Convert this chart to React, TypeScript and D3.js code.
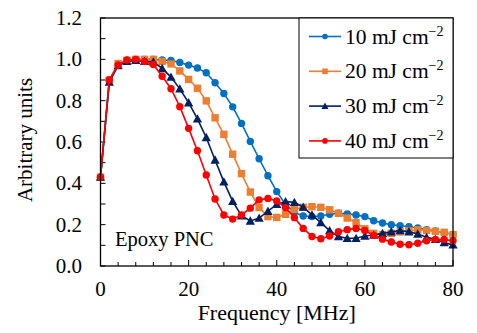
import React from 'react'
import * as d3 from 'd3'

const freqs = d3.range(0, 81, 2)

const fluences = ['10', '20', '30', '40']
const colors = ['#0070C0', '#ED7D31', '#002060', '#FF0000']
const markers = ['circle', 'square', 'triangle', 'circle']

const s10 = [0.43, 0.9, 0.975, 0.995, 1.0, 1.0, 1.0, 0.997, 0.995, 0.985, 0.972, 0.958, 0.935, 0.887, 0.835, 0.77, 0.69, 0.603, 0.519, 0.437, 0.36, 0.298, 0.26, 0.242, 0.239, 0.242, 0.25, 0.255, 0.252, 0.247, 0.239, 0.219, 0.208, 0.2, 0.195, 0.19, 0.184, 0.176, 0.169, 0.161, 0.152]
const s20 = [0.43, 0.9, 0.98, 0.995, 1.0, 1.0, 1.0, 0.99, 0.978, 0.944, 0.903, 0.86, 0.799, 0.717, 0.637, 0.541, 0.447, 0.358, 0.283, 0.239, 0.235, 0.25, 0.274, 0.284, 0.287, 0.284, 0.272, 0.255, 0.232, 0.21, 0.18, 0.158, 0.152, 0.158, 0.165, 0.17, 0.175, 0.172, 0.168, 0.163, 0.152]
const s30 = [0.43, 0.89, 0.97, 0.99, 0.995, 0.99, 0.988, 0.956, 0.914, 0.857, 0.79, 0.712, 0.622, 0.513, 0.407, 0.313, 0.243, 0.218, 0.232, 0.265, 0.298, 0.312, 0.308, 0.285, 0.247, 0.21, 0.171, 0.142, 0.134, 0.134, 0.145, 0.15, 0.158, 0.166, 0.171, 0.166, 0.155, 0.139, 0.129, 0.113, 0.102]
const s40 = [0.43, 0.9, 0.972, 0.997, 1.0, 0.99, 0.975, 0.918, 0.858, 0.771, 0.666, 0.558, 0.44, 0.324, 0.247, 0.227, 0.247, 0.28, 0.32, 0.327, 0.315, 0.282, 0.234, 0.182, 0.143, 0.132, 0.145, 0.166, 0.176, 0.182, 0.172, 0.148, 0.13, 0.116, 0.105, 0.103, 0.11, 0.122, 0.129, 0.128, 0.122]
const series = [s10, s20, s30, s40]

const xTicks = [0, 20, 40, 60, 80]
const yTicks = [0, 0.2, 0.4, 0.6, 0.8, 1.0, 1.2]

const W = 477
const H = 333
const left = 100.5
const right = 453
const top = 18
const bottom = 266
const font = '"Liberation Serif", "Times New Roman", serif'

function Marker({ type, x, y, size, color }) {
  if (type === 'square') {
    return <rect x={x - size} y={y - size} width={size * 2} height={size * 2} fill={color} />
  }
  if (type === 'triangle') {
    const s = size * 1.25
    return <path d={`M${x},${y - s}L${x + s},${y + s * 0.8}L${x - s},${y + s * 0.8}Z`} fill={color} />
  }
  return <circle cx={x} cy={y} r={size} fill={color} />
}

export default function App() {
  const x = d3.scaleLinear().domain([0, 80]).range([left, right])
  const y = d3.scaleLinear().domain([0, 1.2]).range([bottom, top])
  const line = d3.line<number>().x((_, i) => x(freqs[i])).y(d => y(d))

  const minorX = d3.range(0, 81, 4)
  const minorY = d3.range(0, 1.21, 0.1)

  return (
    <svg width={W} height={H} style={{ position: 'absolute', left: 0, top: 0, background: '#fff' }} fontFamily={font}>
      <rect x={0} y={0} width={W} height={H} fill="#fff" />
      {/* ticks */}
      {minorX.map(t => (
        <line key={'xt' + t} x1={x(t)} x2={x(t)} y1={bottom} y2={bottom - (t % 20 === 0 ? 6 : 4)} stroke="#000" strokeWidth={1} />
      ))}
      {minorY.map(t => (
        <line key={'yt' + t} x1={left} x2={left + 5} y1={y(t)} y2={y(t)} stroke="#000" strokeWidth={1} />
      ))}
      {/* series */}
      {series.map((s, k) => (
        <g key={'s' + k}>
          <path d={line(s) || ''} fill="none" stroke={colors[k]} strokeWidth={1.6} />
          {s.map((v, i) => (
            <Marker key={i} type={markers[k]} x={x(freqs[i])} y={y(v)} size={3.7} color={colors[k]} />
          ))}
        </g>
      ))}
      <rect x={left} y={top} width={right - left} height={bottom - top} fill="none" stroke="#000" strokeWidth={1.3} />
      {/* tick labels */}
      {xTicks.map(t => (
        <text key={'xl' + t} x={x(t)} y={296} textAnchor="middle" fontSize={21}>{t}</text>
      ))}
      {yTicks.map(t => (
        <text key={'yl' + t} x={82} y={y(t) + 7} textAnchor="end" fontSize={21}>{d3.format('.1f')(t)}</text>
      ))}
      <text x={(left + right) / 2} y={320} textAnchor="middle" fontSize={22}>Frequency [MHz]</text>
      <text transform={`translate(32,${(top + bottom) / 2 - 2}) rotate(-90)`} textAnchor="middle" fontSize={21}>Arbitrary units</text>
      <text x={115} y={246} fontSize={20.5}>Epoxy PNC</text>
      {/* legend */}
      <rect x={299} y={top} width={right - 299} height={140} fill="#fff" stroke="#000" strokeWidth={1} />
      {fluences.map((f, k) => {
        const ly = 36.5 + k * 34.8
        return (
          <g key={'lg' + f}>
            <line x1={309} x2={341} y1={ly} y2={ly} stroke={colors[k]} strokeWidth={1.6} />
            <Marker type={markers[k]} x={325} y={ly} size={2.8} color={colors[k]} />
            <text x={345} y={ly + 7} fontSize={21.5}>
              {f} mJ cm<tspan dy={-8} fontSize={14}>−2</tspan>
            </text>
          </g>
        )
      })}
    </svg>
  )
}
